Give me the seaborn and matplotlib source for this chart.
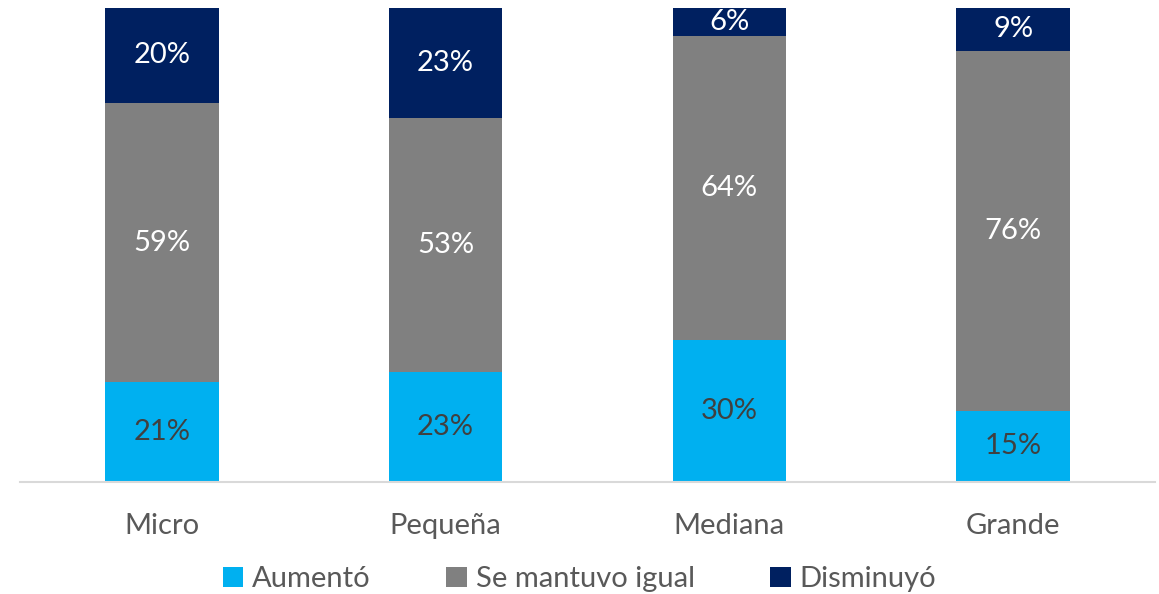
import numpy as np
import pandas as pd
import matplotlib
matplotlib.use("Agg")
import matplotlib.pyplot as plt
import seaborn as sns
from matplotlib.patches import Patch

# data
categorias = ["Micro", "Pequeña", "Mediana", "Grande"]
aumento = [21, 23, 30, 15]
se_mantuvo = [59, 53, 64, 76]
disminuyo = [20, 23, 6, 9]
series_nombres = ["Aumentó", "Se mantuvo igual", "Disminuyó"]
colores = ["#00B0F0", "#808080", "#002060"]
color_texto = ["#404040", "white", "white"]

sns.set_theme(style="white")
plt.rcParams['font.family'] = ['Lato', 'DejaVu Sans']

df = pd.DataFrame({
    "categoria": categorias,
    "Aumentó": aumento,
    "Se mantuvo igual": se_mantuvo,
    "Disminuyó": disminuyo,
})
# the rounded labels do not always add to 100, scale heights to fill the bar
total = df[series_nombres].sum(axis=1)

fig = plt.figure(figsize=(11.59, 5.94), dpi=100)
ax = fig.add_axes([20 / 1159, 1 - 482 / 594, 1135 / 1159, 474 / 594])

base = np.zeros(len(df))
for nombre, col, tc in zip(series_nombres, colores, color_texto):
    alto = (df[nombre] / total * 100).values
    sns.barplot(x=df["categoria"], y=alto, bottom=base, color=col,
                width=0.4, saturation=1, ax=ax, linewidth=0)
    for i, v in enumerate(df[nombre]):
        ax.text(i, base[i] + alto[i] / 2, f"{v}%", ha="center", va="center",
                fontsize=21, color=tc)
    base = base + alto

ax.set_xlim(-0.5, 3.5)
ax.set_ylim(0, 100)
ax.set_xlabel("")
ax.set_ylabel("")
ax.set_yticks([])
ax.tick_params(axis="x", length=0, pad=22, labelsize=21, labelcolor="#595959")
for s in ["top", "left", "right"]:
    ax.spines[s].set_visible(False)
ax.spines["bottom"].set_color("#D9D9D9")
ax.spines["bottom"].set_linewidth(1.5)

handles = [Patch(facecolor=c, edgecolor="none") for c in colores]
leg = fig.legend(handles, series_nombres, loc="center", bbox_to_anchor=(0.5, 0.025),
                 ncol=3, frameon=False, handlelength=0.7,
                 handleheight=0.7, handletextpad=0.3, columnspacing=2.6,
                 prop={"size": 21})
for t in leg.get_texts():
    t.set_color("#595959")

fig.savefig("out.png", dpi=100)
